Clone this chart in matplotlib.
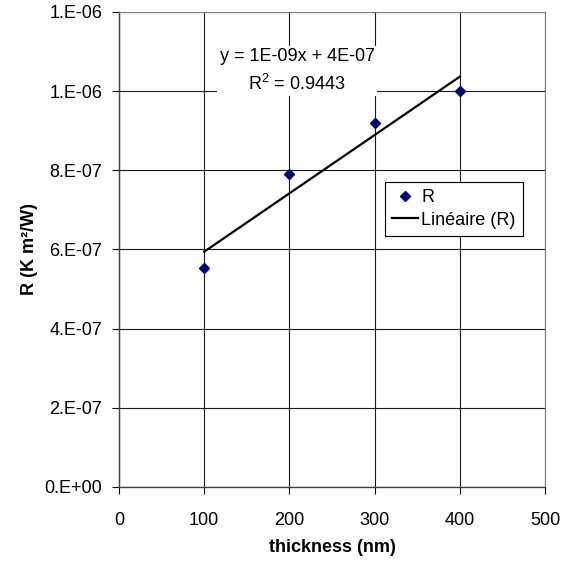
import matplotlib
matplotlib.use("Agg")
import matplotlib.pyplot as plt
import numpy as np
from matplotlib.ticker import FuncFormatter

plt.rcParams['font.family'] = ['Liberation Sans', 'DejaVu Sans']

thickness = [100, 200, 300, 400]
R_values = [5.52e-7, 7.9e-7, 9.2e-7, 1.0e-6]
x_ticks = [0, 100, 200, 300, 400, 500]
y_ticks = [0, 2e-7, 4e-7, 6e-7, 8e-7, 1.0e-6, 1.2e-6]

FS = 13

fig = plt.figure(figsize=(5.71, 5.63), dpi=100)
ax = fig.add_axes([0.2084, 0.135, 0.7461, 0.8437])

x = np.array(thickness, dtype=float)
y = np.array(R_values)
slope, intercept = np.polyfit(x, y, 1)
yfit = slope * x + intercept
r2 = 1 - np.sum((y - yfit) ** 2) / np.sum((y - y.mean()) ** 2)

ax.plot(x, yfit, color='black', lw=1.6, label='Linéaire (R)', zorder=3)
ax.plot(x, y, linestyle='none', marker='D', markersize=5, color='#000080', label='R', zorder=4)

ax.set_xlim(0, 500)
ax.set_ylim(0, 1.2e-6)
ax.set_xticks(x_ticks)
ax.set_yticks(y_ticks)

def yfmt(v, pos):
    if v == 0:
        return '0.E+00'
    e = int(np.floor(np.log10(abs(v)) + 1e-9))
    m = round(v / 10 ** e)
    return f'{m}.E-{abs(e):02d}' if e < 0 else f'{m}.E+{e:02d}'

ax.yaxis.set_major_formatter(FuncFormatter(yfmt))
ax.tick_params(direction='out', length=5, width=0.8, labelsize=FS, colors='black')
ax.tick_params(axis='x', pad=13)
ax.tick_params(axis='y', pad=7)
ax.grid(True, color='#1a1a1a', lw=0.8)
ax.set_axisbelow(True)
for s in ['top', 'right']:
    ax.spines[s].set_color('#808080')
for s in ['left', 'bottom']:
    ax.spines[s].set_color('#404040')
    ax.spines[s].set_linewidth(1.0)

ax.set_xlabel('thickness (nm)', fontsize=FS, fontweight='bold', labelpad=7.5)
ax.set_ylabel('R (K m²/W)', fontsize=FS, fontweight='bold', labelpad=5)

ax.text(209, 1.051e-6, 'y = 1E-09x + 4E-07\n$\\mathregular{R^2}$ = %.4f' % r2,
        ha='center', va='center', fontsize=FS, linespacing=1.5,
        bbox=dict(facecolor='white', edgecolor='none', pad=2), zorder=5)

h, l = ax.get_legend_handles_labels()
leg = ax.legend([h[1], h[0]], [l[1], l[0]], loc='upper left',
                bbox_to_anchor=(0.624, 0.643), fontsize=FS, frameon=True,
                fancybox=False, edgecolor='black', framealpha=1,
                handlelength=1.4, handletextpad=0.2, borderpad=0.42, labelspacing=0.3,
                borderaxespad=0)
leg.get_frame().set_linewidth(0.8)

fig.savefig('out.png', dpi=100)
